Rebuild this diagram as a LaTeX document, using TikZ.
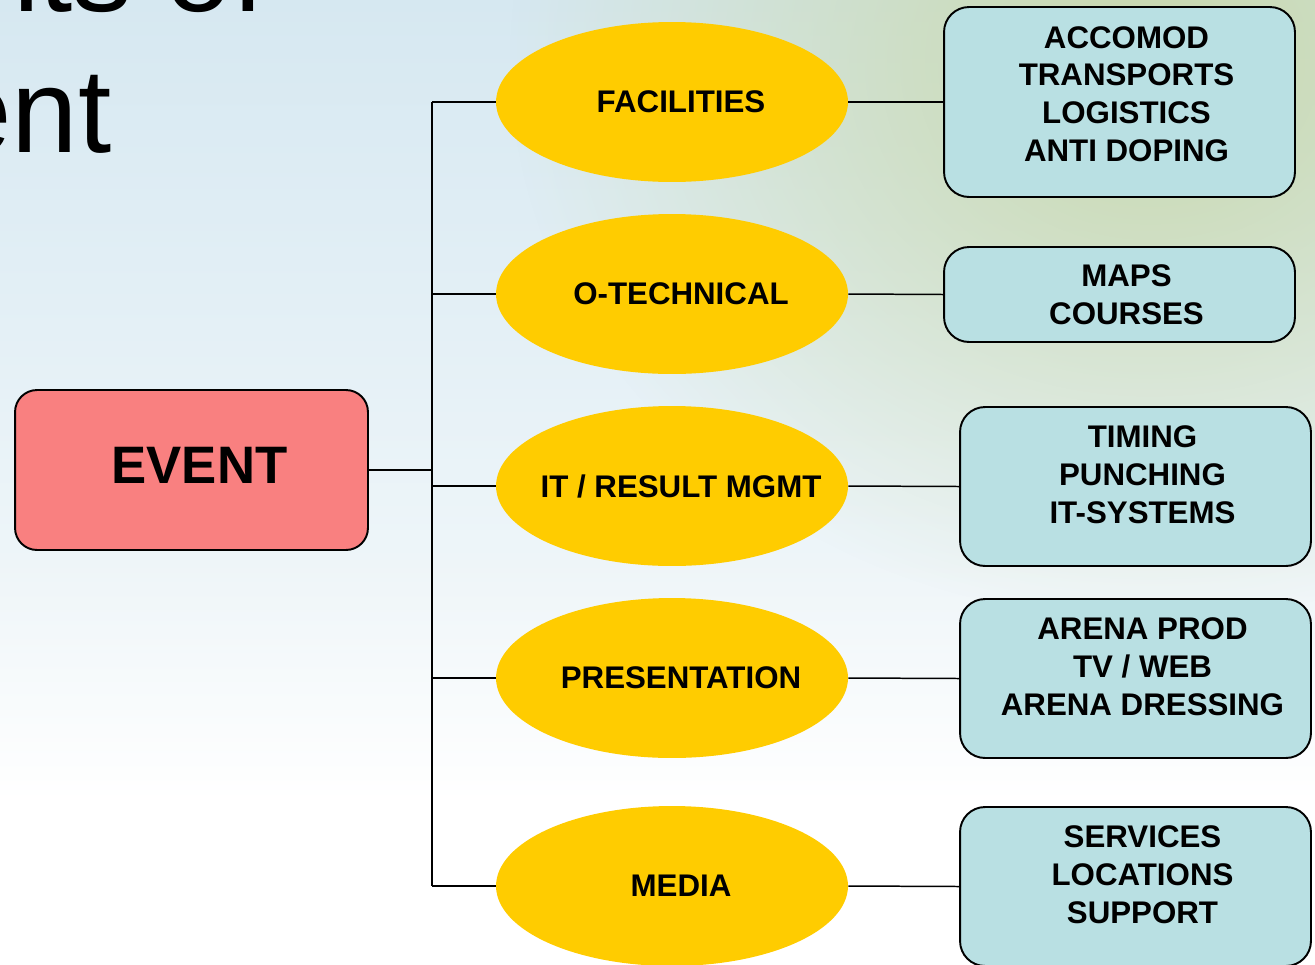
\documentclass[tikz,border=0pt]{standalone}
\usepackage{fontspec}
\setmainfont{Liberation Sans}
\usetikzlibrary{shapes.geometric,fadings}

\definecolor{eventred}{HTML}{F98080}
\definecolor{ovalyellow}{HTML}{FFCC00}
\definecolor{boxcyan}{HTML}{B9E0E3}
\definecolor{bgblue}{HTML}{D6E8F1}
\definecolor{bgmid}{HTML}{EEF5F8}
\definecolor{bggreen}{HTML}{C8D8AC}

\tikzfading[name=glow,inner color=transparent!0,outer color=transparent!100]

\tikzset{
  oval/.style={ellipse,fill=ovalyellow,minimum width=7.04cm,minimum height=3.2cm,inner sep=0pt},
  evt/.style={rectangle,rounded corners=0.44cm,draw,line width=1.1pt,fill=eventred,minimum width=7.06cm,minimum height=3.2cm},
  task/.style={rectangle,rounded corners=0.5cm,draw,line width=1.1pt,fill=boxcyan,minimum width=7.02cm},
  lbl/.style={font=\fontsize{17.8}{21.5}\selectfont\bfseries,align=center,inner sep=0pt},
  link/.style={line width=0.85pt}
}

\begin{document}
\begin{tikzpicture}[x=0.02cm,y=-0.02cm]
            \useasboundingbox (0,0) rectangle (1315,964);
            \clip (0,0) rectangle (1315,964);
            % Background
            \shade[top color=bgblue,middle color=bgmid,bottom color=white] (0,0) rectangle (1315,964);
            \fill[white] (0,800) rectangle (1315,964);
            \shade[top color=bgmid,bottom color=white] (0,560) rectangle (1315,802);
            \fill[bggreen,path fading=glow] (1150,60) ellipse (640 and 560);
            % Title (cut off)
            \node[anchor=base west,inner sep=0pt,font=\fontsize{68}{80}\selectfont] (ttl) at (-27,11) {nts of};
            \node[anchor=base west,inner sep=0pt,font=\fontsize{68}{80}\selectfont] (ttlb) at (-55,152) {ent};
            % Nodes
            \node[evt,label={[font=\fontsize{30}{36}\selectfont\bfseries,inner sep=0pt,xshift=0.16cm,yshift=0.1cm]center:EVENT}] (event) at (191.5,470) {};
            \node[oval,label={[lbl,xshift=0.18cm]center:FACILITIES}] (fac) at (672,102) {};
            \node[oval,label={[lbl,xshift=0.18cm]center:O-TECHNICAL}] (otec) at (672,294) {};
            \node[oval,label={[lbl,xshift=0.18cm]center:IT / RESULT MGMT}] (itres) at (672,486) {};
            \node[oval,label={[lbl,xshift=0.18cm]center:PRESENTATION}] (pres) at (672,678) {};
            \node[oval,label={[lbl,xshift=0.18cm]center:MEDIA}] (media) at (672,886) {};
            \node[task,minimum height=3.8cm,label={[lbl,xshift=0.14cm,yshift=0.16cm]center:ACCOMOD\\TRANSPORTS\\LOGISTICS\\ANTI DOPING}] (accom) at (1119.5,102) {};
            \node[task,minimum height=1.9cm,label={[lbl,xshift=0.14cm]center:MAPS\\COURSES}] (maps) at (1119.5,294.5) {};
            \node[task,minimum height=3.18cm,label={[lbl,xshift=0.14cm,yshift=0.24cm]center:TIMING\\PUNCHING\\IT-SYSTEMS}] (timing) at (1135.5,486.5) {};
            \node[task,minimum height=3.18cm,label={[lbl,xshift=0.14cm,yshift=0.24cm]center:ARENA PROD\\TV / WEB\\ARENA DRESSING}] (arena) at (1135.5,678.5) {};
            \node[task,minimum height=3.18cm,label={[lbl,xshift=0.14cm,yshift=0.24cm]center:SERVICES\\LOCATIONS\\SUPPORT}] (serv) at (1135.5,886.5) {};
            % Edges
            \coordinate (ttop) at (432,102);
            \coordinate (tbot) at (432,886);
            \draw[line width=1.1pt] (ttop) -- (tbot);
            \draw[line width=1.6pt] (event.east) -- (event.east -| ttop);
            \foreach \n in {fac,otec,itres,pres,media}
              \draw[link] (\n.west) -- (\n.west -| ttop);
            \draw[link] (fac.east) -- (accom.west);
            \draw[link] (otec.east) -- (maps.west);
            \draw[link] (itres.east) -- (timing.west);
            \draw[link] (pres.east) -- (arena.west);
            \draw[link] (media.east) -- (serv.west);
        \end{tikzpicture}
\end{document}
